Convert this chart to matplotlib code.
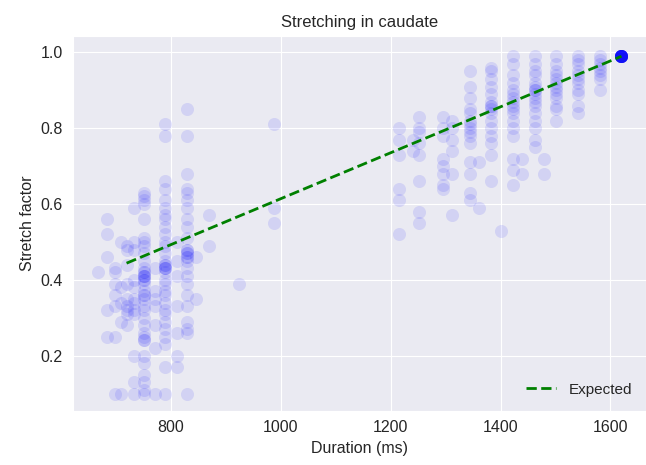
import matplotlib.pyplot as plt
import seaborn as sns

# durations (ms) of each column of trials, and the stretch factors read for them
durations = [668, 684, 699, 710, 720, 733, 751, 771, 789, 811, 829, 847, 869,
             925, 988, 1215, 1240, 1251, 1296, 1311, 1345, 1360, 1383, 1400,
             1423, 1440, 1463, 1480, 1501, 1541, 1581, 1620]

c668 = [0.42]
c684 = [0.56, 0.52, 0.46, 0.32, 0.25]
c699 = [0.43, 0.42, 0.39, 0.36, 0.33, 0.25, 0.10]
c710 = [0.50, 0.38, 0.34, 0.29, 0.10]
c720 = [0.49, 0.48, 0.44, 0.39, 0.35, 0.33, 0.32, 0.31, 0.28]
c733 = [0.59, 0.50, 0.48, 0.40, 0.38, 0.35, 0.34, 0.32, 0.31, 0.20, 0.13,
        0.10]
c751 = [0.63, 0.62, 0.61, 0.60, 0.56, 0.51, 0.50, 0.49, 0.47, 0.45, 0.43,
        0.42, 0.42, 0.41, 0.41, 0.41, 0.40, 0.40, 0.39, 0.37, 0.36, 0.36,
        0.35, 0.33, 0.32, 0.30, 0.28, 0.26, 0.25, 0.24, 0.24, 0.20, 0.18,
        0.15, 0.13, 0.11, 0.10]
c771 = [0.43, 0.37, 0.35, 0.33, 0.28, 0.22, 0.10]
c789 = [0.81, 0.78, 0.66, 0.64, 0.61, 0.59, 0.57, 0.56, 0.54, 0.52, 0.50,
        0.49, 0.47, 0.45, 0.44, 0.44, 0.43, 0.43, 0.43, 0.42, 0.40, 0.39,
        0.37, 0.36, 0.34, 0.32, 0.31, 0.29, 0.27, 0.25, 0.23, 0.17, 0.10]
c811 = [0.50, 0.45, 0.41, 0.33, 0.26, 0.20, 0.17]
c829 = [0.85, 0.78, 0.68, 0.64, 0.63, 0.61, 0.59, 0.56, 0.54, 0.51, 0.48,
        0.48, 0.47, 0.47, 0.46, 0.46, 0.45, 0.43, 0.41, 0.39, 0.36, 0.33,
        0.29, 0.27, 0.26, 0.10]
c847 = [0.46, 0.35]
c869 = [0.57, 0.49]
c925 = [0.39]
c988 = [0.81, 0.59, 0.55]
c1215 = [0.80, 0.77, 0.73, 0.64, 0.61, 0.52]
c1240 = [0.77, 0.74]
c1251 = [0.83, 0.80, 0.79, 0.76, 0.73, 0.66, 0.58, 0.55]
c1296 = [0.83, 0.80, 0.78, 0.72, 0.70, 0.68, 0.65, 0.64]
c1311 = [0.82, 0.80, 0.77, 0.74, 0.68, 0.57]
c1345 = [0.95, 0.91, 0.88, 0.85, 0.84, 0.82, 0.81, 0.80, 0.79, 0.78, 0.76,
         0.71, 0.68, 0.63, 0.61]
c1360 = [0.71, 0.59]
c1383 = [0.96, 0.95, 0.93, 0.91, 0.89, 0.87, 0.86, 0.86, 0.85, 0.84, 0.82,
         0.80, 0.78, 0.76, 0.73, 0.66]
c1400 = [0.53]
c1423 = [0.99, 0.97, 0.94, 0.92, 0.90, 0.89, 0.88, 0.87, 0.86, 0.85, 0.84,
         0.82, 0.80, 0.78, 0.72, 0.69, 0.65]
c1440 = [0.72, 0.68]
c1463 = [0.99, 0.97, 0.95, 0.94, 0.92, 0.91, 0.90, 0.90, 0.89, 0.88, 0.87,
         0.86, 0.84, 0.82, 0.80, 0.77, 0.75]
c1480 = [0.72, 0.68]
c1501 = [0.99, 0.97, 0.95, 0.94, 0.93, 0.92, 0.91, 0.90, 0.89, 0.88, 0.86,
         0.85, 0.82]
c1541 = [0.99, 0.98, 0.97, 0.95, 0.94, 0.93, 0.92, 0.90, 0.89, 0.86, 0.84]
c1581 = [0.99, 0.98, 0.97, 0.96, 0.95, 0.94, 0.93, 0.90]
c1620 = [0.99, 0.99, 0.99, 0.99, 0.99, 0.99, 0.99, 0.99, 0.99, 0.99, 0.99,
         0.99, 0.99, 0.99, 0.99, 0.99, 0.99, 0.99, 0.99, 0.99, 0.99, 0.99]

columns = [c668, c684, c699, c710, c720, c733, c751, c771, c789, c811, c829,
           c847, c869, c925, c988, c1215, c1240, c1251, c1296, c1311, c1345,
           c1360, c1383, c1400, c1423, c1440, c1463, c1480, c1501, c1541,
           c1581, c1620]

expected_x = [720, 1620]
expected_y = [0.444, 0.99]

sns.set_style('darkgrid')
plt.rcParams['font.family'] = ['Liberation Sans', 'DejaVu Sans']

fig = plt.figure(figsize=(6.46, 4.65), dpi=100)
ax = fig.add_axes([0.1125, 0.117, 0.887, 0.806])

xs, ys = [], []
for d, col in zip(durations, columns):
    xs += [d] * len(col)
    ys += col
ax.scatter(xs, ys, s=88, color='blue', alpha=0.1, linewidths=0)

ax.plot(expected_x, expected_y, '--', color='green', lw=2, label='Expected')

ax.set_xlim(622, 1664)
ax.set_ylim(0.055, 1.044)
ax.set_xticks([800, 1000, 1200, 1400, 1600])
ax.set_yticks([0.2, 0.4, 0.6, 0.8, 1.0])
ax.tick_params(labelsize=11.5, colors='.15')
ax.set_xlabel('Duration (ms)', fontsize=11.5, color='.15')
ax.set_ylabel('Stretch factor', fontsize=11.5, color='.15')
ax.set_title('Stretching in caudate', fontsize=12, color='.15')
ax.legend(loc='lower right', fontsize=11, frameon=False)

plt.savefig('out.png')
